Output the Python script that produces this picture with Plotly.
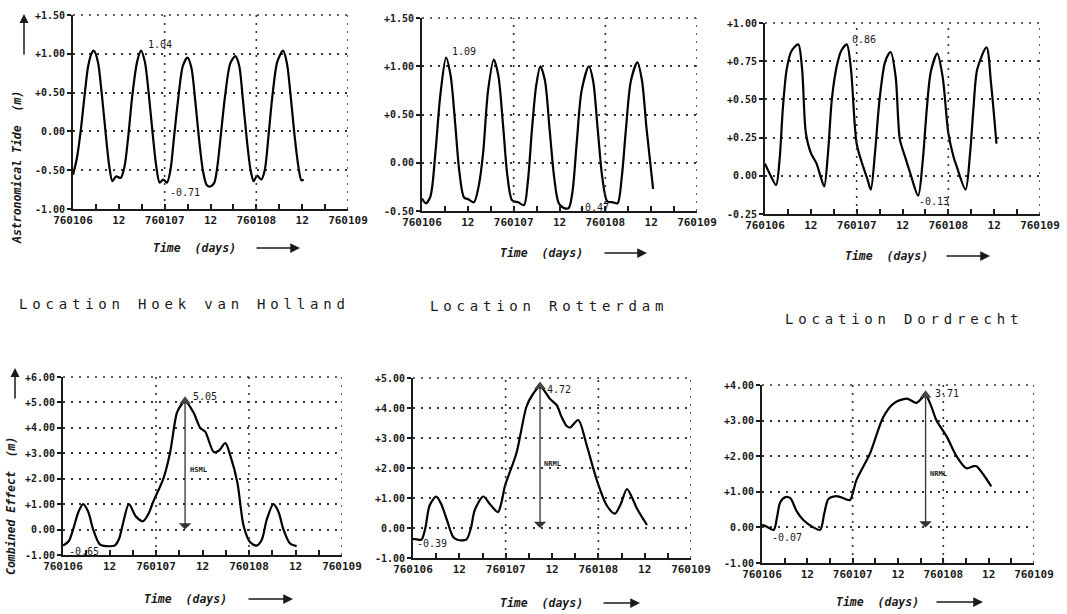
import plotly.graph_objects as go

# ---------------- data (hours after 760106 00:00, metres) ----------------
hvh_tide_t = [0, 1, 2, 3, 4, 5, 5.5, 6.5, 7.5, 8.5, 9.5, 10.3, 11.3, 12.5, 13.5, 14.5, 15.5, 16.8, 17.8,
              18.8, 19.8, 20.8, 21.8, 22.7, 23.6, 24.6, 25.5, 26.5, 27.5, 28.8, 30.0, 31.0, 32.0, 33.0,
              34.0, 35.0, 36.0, 37.0, 37.8, 38.8, 39.8, 41.2, 42.5, 43.5, 44.5, 45.5, 46.5, 47.3, 48.2,
              49.3, 50.2, 51.2, 52.2, 53.5, 55.0, 56.0, 57.0, 58.0, 59.0, 59.8, 60.4]
hvh_tide_v = [-0.56, -0.35, 0.0, 0.45, 0.85, 1.02, 1.04, 0.9, 0.5, 0.0, -0.45, -0.64, -0.58, -0.6, -0.45,
              -0.05, 0.45, 0.9, 1.04, 0.9, 0.5, 0.0, -0.45, -0.66, -0.62, -0.66, -0.5, -0.05, 0.4, 0.85,
              0.95, 0.82, 0.4, -0.1, -0.5, -0.69, -0.71, -0.66, -0.45, 0.0, 0.45, 0.88, 0.97, 0.85, 0.4,
              -0.1, -0.5, -0.64, -0.57, -0.62, -0.5, -0.05, 0.45, 0.9, 1.04, 0.88, 0.45, -0.05, -0.45,
              -0.63, -0.62]

rot_tide_t = [0, 1.0, 2.2, 3.5, 4.8, 6.3, 7.5, 8.7, 9.8, 11.0, 12.2, 13.6, 14.8, 16.0, 17.3, 18.8, 20.0,
              21.2, 22.4, 23.6, 25.2, 26.7, 27.7, 28.8, 29.9, 31.0, 32.2, 33.4, 34.6, 35.8, 37.2, 38.4,
              39.4, 40.5, 41.8, 43.7, 44.8, 46.0, 47.2, 48.5, 50.0, 51.2, 52.3, 53.4, 54.7, 56.4, 57.6,
              58.8, 60.5]
rot_tide_v = [-0.37, -0.42, -0.35, 0.1, 0.7, 1.09, 0.9, 0.4, -0.1, -0.36, -0.38, -0.41, -0.25, 0.1, 0.75,
              1.07, 0.9, 0.4, -0.15, -0.39, -0.41, -0.44, -0.2, 0.35, 0.8, 1.0, 0.85, 0.35, -0.15, -0.42,
              -0.47, -0.47, -0.3, 0.2, 0.75, 1.0, 0.85, 0.35, -0.15, -0.4, -0.41, -0.42, -0.15, 0.35,
              0.85, 1.04, 0.85, 0.35, -0.27]

dor_tide_t = [0, 1.5, 2.9, 3.8, 4.7, 5.7, 7.0, 8.7, 9.7, 10.7, 12.0, 13.5, 14.5, 15.5, 16.5, 17.5, 18.8,
              20.0, 21.4, 22.5, 24.0, 25.7, 26.8, 27.7, 28.8, 30.0, 31.5, 32.9, 34.2, 35.3, 36.6, 38.0,
              40.1, 41.3, 42.4, 43.4, 45.1, 46.5, 48.0, 49.3, 50.2, 52.5, 53.7, 54.6, 55.6, 58.0, 59.2,
              60.6]
dor_tide_v = [0.08, 0.0, -0.06, 0.1, 0.45, 0.7, 0.82, 0.86, 0.7, 0.28, 0.15, 0.08, 0.0, -0.07, 0.15, 0.5,
              0.72, 0.82, 0.86, 0.7, 0.21, 0.06, -0.02, -0.09, 0.15, 0.5, 0.75, 0.81, 0.65, 0.24, 0.13,
              0.02, -0.13, 0.1, 0.45, 0.68, 0.8, 0.65, 0.28, 0.13, 0.06, -0.09, 0.15, 0.45, 0.7, 0.84,
              0.6, 0.21]

hvh_comb_t = [0, 1.5, 2.6, 4.0, 5.2, 6.5, 7.8, 9.5, 11.2, 13.4, 14.5, 15.5, 17.0, 18.9, 20.7, 22.0, 23.3,
              25.9, 27.6, 29.4, 30.5, 31.5, 33.7, 35.4, 36.7, 38.9, 40.2, 41.9, 43.2, 45.0, 46.6, 48.3,
              50.0, 51.3, 52.6, 54.3, 55.6, 56.9, 58.6, 60.3]
hvh_comb_v = [-0.63, -0.45, 0.0, 0.7, 1.0, 0.7, 0.0, -0.58, -0.65, -0.62, -0.35, 0.25, 1.0, 0.5, 0.33,
              0.6, 1.1, 2.0, 3.0, 4.6, 4.9, 5.05, 4.6, 4.0, 3.85, 3.05, 3.1, 3.4, 2.9, 1.85, 0.15, -0.5,
              -0.63, -0.4, 0.4, 1.0, 0.7, 0.0, -0.55, -0.65]

rot_comb_t = [0, 1.0, 2.2, 3.2, 4.3, 6.0, 7.3, 8.7, 10.4, 11.5, 13.8, 15.0, 16.0, 18.2, 19.9, 22.0, 23.0,
              23.8, 26.8, 29.4, 31.0, 32.9, 35.5, 37.2, 38.5, 39.8, 40.7, 42.8, 45.0, 47.6, 50.2, 52.3,
              53.8, 55.4, 56.6, 58.0, 60.6]
rot_comb_v = [-0.36, -0.38, -0.39, 0.0, 0.75, 1.05, 0.8, 0.3, -0.3, -0.39, -0.39, 0.0, 0.6, 1.05, 0.8,
              0.53, 0.9, 1.4, 2.5, 4.05, 4.45, 4.72, 4.3, 4.1, 3.7, 3.4, 3.35, 3.6, 2.75, 1.6, 0.75, 0.48,
              0.8, 1.3, 1.05, 0.65, 0.1]

dor_comb_t = [0, 1.3, 3.1, 4.0, 4.8, 6.2, 7.5, 9.2, 11.0, 13.6, 15.4, 16.5, 17.6, 19.8, 22.0, 23.3, 25.0,
              28.6, 32.1, 34.8, 38.3, 40.9, 43.3, 44.8, 46.2, 48.9, 51.5, 54.1, 56.0, 56.8, 58.5, 60.7]
dor_comb_v = [0.07, 0.02, -0.07, 0.3, 0.7, 0.85, 0.82, 0.45, 0.2, 0.0, -0.07, 0.4, 0.8, 0.88, 0.8, 0.77,
              1.33, 2.08, 3.1, 3.48, 3.62, 3.5, 3.71, 3.4, 3.0, 2.55, 2.0, 1.66, 1.72, 1.72, 1.5, 1.15]

x_tickvals = [0, 6, 12, 18, 24, 30, 36, 42, 48, 54, 60, 66, 72]
x_ticktext = ["760106", "", "12", "", "760107", "", "12", "", "760108", "", "12", "", "760109"]
day_lines = [24, 48, 72]

y_ticks = {
    1: ([-1.0, -0.5, 0.0, 0.5, 1.0, 1.5], ["-1.00", "-0.50", "0.00", "+0.50", "+1.00", "+1.50"]),
    2: ([-0.5, 0.0, 0.5, 1.0, 1.5], ["-0.50", "0.00", "+0.50", "+1.00", "+1.50"]),
    3: ([-0.25, 0.0, 0.25, 0.5, 0.75, 1.0], ["-0.25", "0.00", "+0.25", "+0.50", "+0.75", "+1.00"]),
    4: ([-1, 0, 1, 2, 3, 4, 5, 6], ["-1.00", "0.00", "+1.00", "+2.00", "+3.00", "+4.00", "+5.00", "+6.00"]),
    5: ([-1, 0, 1, 2, 3, 4, 5], ["-1.00", "0.00", "+1.00", "+2.00", "+3.00", "+4.00", "+5.00"]),
    6: ([-1, 0, 1, 2, 3, 4], ["-1.00", "0.00", "+1.00", "+2.00", "+3.00", "+4.00"]),
}

series = {1: (hvh_tide_t, hvh_tide_v), 2: (rot_tide_t, rot_tide_v), 3: (dor_tide_t, dor_tide_v),
          4: (hvh_comb_t, hvh_comb_v), 5: (rot_comb_t, rot_comb_v), 6: (dor_comb_t, dor_comb_v)}

# value labels: (hours, value, text)
value_labels = {
    1: [(19.0, 1.12, "1.04"), (24.9, -0.79, "-0.71")],
    2: [(7.3, 1.15, "1.09"), (40.7, -0.46, "-0.47")],
    3: [(22.3, 0.895, "0.86"), (39.8, -0.17, "-0.13")],
    4: [(33.0, 5.25, "5.05"), (1.0, -0.87, "-0.65")],
    5: [(34.3, 4.63, "4.72"), (0.5, -0.53, "-0.39")],
    6: [(45.2, 3.77, "3.71"), (2.1, -0.28, "-0.07")],
}
# surge arrows: (hours, peak, label text, label x, label y)
surge = {4: (31.5, 5.05, "HSML", 32.3, 2.34),
         5: (32.9, 4.72, "NRML", 33.5, 2.13),
         6: (43.3, 3.71, "NRML", 43.9, 1.49)}

locations = ["Location Hoek van Holland", "Location Rotterdam", "Location Dordrecht"]

# ---------------- layout geometry (pixels) ----------------
W, H = 1067, 614
boxes = {1: (73, 348, 15, 209), 2: (422, 697, 18, 211), 3: (765, 1040, 23, 214),
         4: (63, 342, 377, 555), 5: (413, 691, 378, 558), 6: (762, 1034, 385, 563)}
time_title = {1: (194, 248, 255, 300), 2: (541, 253, 603, 647), 3: (886, 256, 945, 990),
              4: (185, 599, 247, 293), 5: (541, 603, 602, 640), 6: (877, 602, 935, 983)}

MONO = "DejaVu Sans Mono"
INK = "#1a1a1a"
DOT = "2px,6px"

fig = go.Figure()
layout = dict(width=W, height=H, margin=dict(l=0, r=0, t=0, b=0, autoexpand=False),
              paper_bgcolor="white", plot_bgcolor="white", showlegend=False,
              shapes=[], annotations=[])

for i in range(1, 7):
    xs = "" if i == 1 else str(i)
    x0, x1, y0, y1 = boxes[i]
    tv, tt = y_ticks[i]
    layout["xaxis" + xs] = dict(
        domain=[x0 / W, x1 / W], anchor="y" + xs, range=[0, 72],
        tickvals=x_tickvals, ticktext=x_ticktext, ticks="inside", ticklen=5, tickwidth=1.5,
        tickcolor=INK, showline=True, linewidth=1.8, linecolor=INK, showgrid=False,
        zeroline=False, tickfont=dict(family=MONO, size=11, color=INK, weight="bold"),
        fixedrange=True, automargin=False)
    layout["yaxis" + xs] = dict(
        domain=[1 - y1 / H, 1 - y0 / H], anchor="x" + xs, range=[tv[0], tv[-1]],
        tickvals=tv, ticktext=tt, ticks="outside", ticklen=4, tickwidth=1.5, tickcolor=INK,
        showline=True, linewidth=1.8, linecolor=INK, showgrid=True, gridcolor="#333333",
        gridwidth=1.6, griddash=DOT, zeroline=False,
        tickfont=dict(family=MONO, size=10, color=INK, weight="bold"), fixedrange=True,
        automargin=False)

    t, v = series[i]
    fig.add_trace(go.Scatter(x=t, y=v, mode="lines", xaxis="x" + xs, yaxis="y" + xs,
                             line=dict(color="black", width=2.2, shape="spline", smoothing=0.8),
                             hoverinfo="skip"))

    for d in day_lines:
        layout["shapes"].append(dict(type="line", xref="x" + xs, yref="y" + xs + " domain",
                                     x0=d, x1=d, y0=0, y1=1,
                                     line=dict(color="#333333", width=1.6, dash=DOT)))
    # top dotted border
    layout["shapes"].append(dict(type="line", xref="x" + xs + " domain", yref="y" + xs + " domain",
                                 x0=0, x1=1, y0=1, y1=1,
                                 line=dict(color="#333333", width=1.6, dash=DOT)))

    for (hx, vy, txt) in value_labels[i]:
        layout["annotations"].append(dict(x=hx, y=vy, xref="x" + xs, yref="y" + xs, text=txt,
                                          showarrow=False, xanchor="left", yanchor="middle",
                                          font=dict(family=MONO, size=10, color=INK)))

    if i in surge:
        sx, peak, lab, lx, ly = surge[i]
        layout["annotations"].append(dict(x=sx, y=0, ax=sx, ay=peak, xref="x" + xs, yref="y" + xs,
                                          axref="x" + xs, ayref="y" + xs, text="", showarrow=True,
                                          arrowhead=1, arrowsize=1.6, arrowwidth=1.3,
                                          arrowcolor="#333333"))
        fig.add_trace(go.Scatter(x=[sx], y=[peak], mode="markers", xaxis="x" + xs, yaxis="y" + xs,
                                 marker=dict(symbol="triangle-up", size=10, color="#444444"),
                                 hoverinfo="skip"))
        layout["annotations"].append(dict(x=lx, y=ly, xref="x" + xs, yref="y" + xs, text=lab,
                                          showarrow=False, xanchor="left", yanchor="middle",
                                          font=dict(family=MONO, size=7, color=INK, weight="bold")))

    # "Time (days) --->" title
    cx, cy, ax0, ax1 = time_title[i]
    layout["annotations"].append(dict(x=cx / W, y=1 - cy / H, xref="paper", yref="paper",
                                      xanchor="center", yanchor="middle",
                                      text="<i>Time  (days)</i>", showarrow=False,
                                      font=dict(family=MONO, size=11.5, color=INK, weight="bold")))
    layout["annotations"].append(dict(x=ax1 / W, y=1 - cy / H, ax=-(ax1 - ax0), ay=0,
                                      xref="paper", yref="paper", axref="pixel", ayref="pixel",
                                      xanchor="center", yanchor="middle",
                                      text="", showarrow=True, arrowhead=2, arrowsize=1.3,
                                      arrowwidth=1.5, arrowcolor=INK))

# y-axis titles with upward arrows
layout["annotations"].append(dict(x=17 / W, y=1 - 168 / H, xref="paper", yref="paper",
                                  xanchor="center", yanchor="middle",
                                  text="<i>Astronomical Tide  (m)</i>", textangle=-90, showarrow=False,
                                  font=dict(family=MONO, size=11.5, color=INK, weight="bold")))
layout["annotations"].append(dict(x=24 / W, y=1 - 14 / H, ax=0, ay=42,
                                  xref="paper", yref="paper", axref="pixel", ayref="pixel",
                                  xanchor="center", yanchor="middle",
                                  text="", showarrow=True, arrowhead=2, arrowsize=1.2,
                                  arrowwidth=1.5, arrowcolor=INK))
layout["annotations"].append(dict(x=11 / W, y=1 - 506 / H, xref="paper", yref="paper",
                                  xanchor="center", yanchor="middle",
                                  text="<i>Combined Effect  (m)</i>", textangle=-90, showarrow=False,
                                  font=dict(family=MONO, size=11.5, color=INK, weight="bold")))
layout["annotations"].append(dict(x=15 / W, y=1 - 368 / H, ax=0, ay=32,
                                  xref="paper", yref="paper", axref="pixel", ayref="pixel",
                                  xanchor="center", yanchor="middle",
                                  text="", showarrow=True, arrowhead=2, arrowsize=1.2,
                                  arrowwidth=1.5, arrowcolor=INK))

# location titles
loc_pos = [(17, 304), (428, 306), (783, 319)]
for name, (lx, ly) in zip(locations, loc_pos):
    layout["annotations"].append(dict(x=lx / W, y=1 - ly / H, xref="paper", yref="paper",
                                      text='<span style="letter-spacing:4.8px">' + name + "</span>",
                                      showarrow=False, xanchor="left", yanchor="middle",
                                      font=dict(family=MONO, size=14, color=INK, weight=500)))

fig.update_layout(**layout)
fig.write_html("out.html")
